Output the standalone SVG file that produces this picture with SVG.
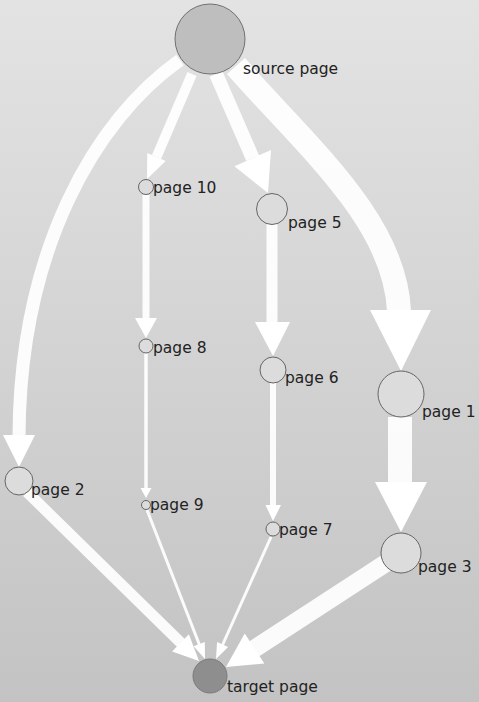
<svg xmlns="http://www.w3.org/2000/svg" width="479" height="702" viewBox="0 0 479 702">
<defs>
<linearGradient id="bg" x1="0" y1="0" x2="0" y2="1">
<stop offset="0" stop-color="#e3e3e3"/>
<stop offset="1" stop-color="#c3c3c3"/>
</linearGradient>
<style>
.e{fill:none;stroke:#ffffff;stroke-opacity:0.92}
.h{fill:#ffffff;stroke:none}
.n{fill:#dcdcdc;stroke:#666666;stroke-width:1}
.t{font-family:"DejaVu Sans",Verdana,sans-serif;font-size:15.5px;fill:#222222}
</style>
</defs>
<rect x="0" y="0" width="479" height="702" fill="url(#bg)"/>
<g id="connectors">
<!-- source -> page 2 -->
<path class="e" stroke-width="13" d="M180 60 C 95 120, 20 250, 19 436"/>
<polygon class="h" points="3,435 35,435 19,467"/>
<!-- source -> page 10 -->
<path class="e" stroke-width="10" d="M192 74 L156.5 157"/>
<polygon class="h" points="165.7,160.9 147.3,153 147,179"/>
<!-- source -> page 5 -->
<path class="e" stroke-width="14" d="M216 74 L252.7 158.2"/>
<polygon class="h" points="271,150.1 234.4,166.3 268,193"/>
<!-- source -> page 1 -->
<path class="e" stroke-width="24" d="M236 66 C 305 145, 395 220, 399 311"/>
<polygon class="h" points="370,310 431,310 401,371"/>
<!-- page 10 -> page 8 -->
<path class="e" stroke-width="7" d="M146 195 L146 319"/>
<polygon class="h" points="135,318 157,318 146,338"/>
<!-- page 8 -> page 9 -->
<path class="e" stroke-width="3.5" d="M146 353 L146 489"/>
<polygon class="h" points="140.5,488 151.5,488 146,498"/>
<!-- page 5 -> page 6 -->
<path class="e" stroke-width="11" d="M272 224 L272 323"/>
<polygon class="h" points="255,322 290,322 273,356"/>
<!-- page 6 -> page 7 -->
<path class="e" stroke-width="6" d="M273 383 L273 506"/>
<polygon class="h" points="265.5,505 281,505 273,521"/>
<!-- page 1 -> page 3 -->
<path class="e" stroke-width="24" stroke-opacity="0.75" d="M400 417 L400 483"/>
<polygon class="h" points="375,482 427,482 401,532"/>
<!-- page 2 -> target -->
<path class="e" stroke-width="11" d="M27 492 L181 643"/>
<polygon class="h" points="188.9,634.2 172.1,651.4 199,661"/>
<!-- page 9 -> target -->
<path class="e" stroke-width="3" d="M147 510 L199.5 645"/>
<polygon class="h" points="204.8,641.9 193.6,646.3 205,659"/>
<!-- page 7 -> target -->
<path class="e" stroke-width="3" d="M271 537 L222.5 645"/>
<polygon class="h" points="228.1,646.9 217.1,641.9 216,659"/>
<!-- page 3 -> target -->
<path class="e" stroke-width="18" d="M386 563 L254 649"/>
<polygon class="h" points="264.3,663.6 244.7,633.4 226,667"/>
</g>
<g id="source"><circle cx="210" cy="39" r="35" fill="#bebebe" stroke="#707070" stroke-width="1"/><text class="t" x="243" y="74">source page</text></g>
<g id="page10"><circle class="n" cx="146" cy="187" r="7.5"/><text class="t" x="153" y="193">page 10</text></g>
<g id="page5"><circle class="n" cx="272" cy="209" r="15.5"/><text class="t" x="288" y="228">page 5</text></g>
<g id="page8"><circle class="n" cx="146" cy="346" r="7"/><text class="t" x="153" y="353">page 8</text></g>
<g id="page6"><circle class="n" cx="273" cy="370" r="13"/><text class="t" x="285" y="383">page 6</text></g>
<g id="page1"><circle class="n" cx="401" cy="394" r="23"/><text class="t" x="422" y="417">page 1</text></g>
<g id="page2"><circle class="n" cx="19" cy="481" r="14"/><text class="t" x="31" y="495">page 2</text></g>
<g id="page9"><circle class="n" cx="146" cy="505" r="4.5"/><text class="t" x="150" y="510">page 9</text></g>
<g id="page7"><circle class="n" cx="273" cy="529" r="7"/><text class="t" x="279" y="535">page 7</text></g>
<g id="page3"><circle class="n" cx="401" cy="553" r="20"/><text class="t" x="418" y="572">page 3</text></g>
<g id="target"><circle cx="210" cy="676" r="17" fill="#8e8e8e" stroke="#7a7a7a" stroke-width="1"/><text class="t" x="227" y="692">target page</text></g>
</svg>
